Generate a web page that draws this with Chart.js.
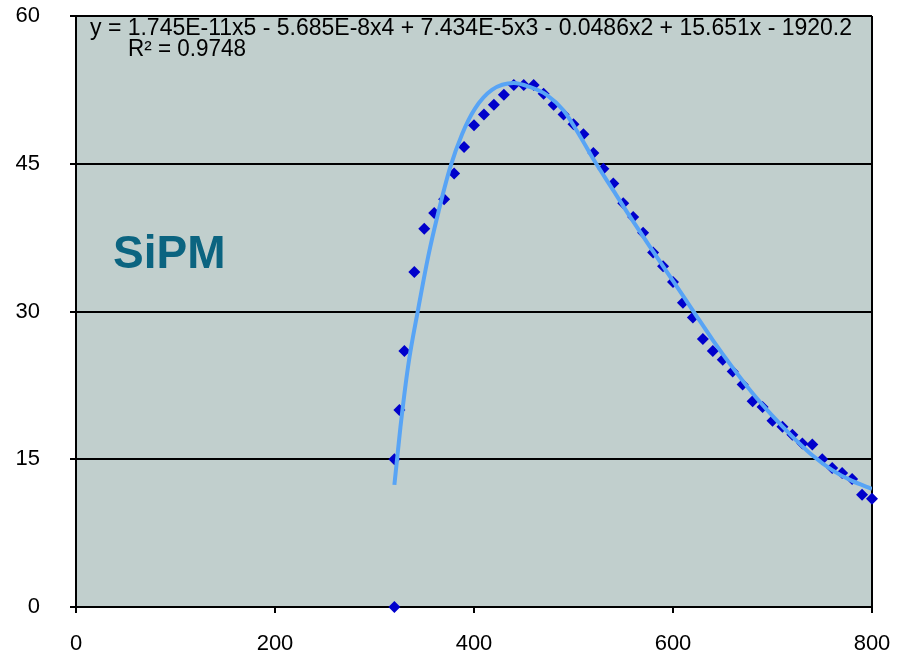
<!DOCTYPE html>
<html>
<head>
<meta charset="utf-8">
<script src="https://cdn.jsdelivr.net/npm/chart.js@4.4.1/dist/chart.umd.min.js"></script>
<style>
  html, body { margin: 0; padding: 0; background: #fff; }
  canvas { display: block; }
</style>
</head>
<body>
<canvas id="chart1" width="901" height="653"></canvas>
<script>
"use strict";

// measured points (wavelength nm, PDE %)
var wavelengths = [320, 320, 325, 330, 340, 350, 360, 370, 380, 390, 400, 410, 420, 430, 440, 450, 460, 470, 480, 490, 500,
  510, 520, 530, 540, 550, 560, 570, 580, 590, 600, 610, 620, 630, 640, 650, 660, 670, 680, 690, 700,
  710, 720, 730, 740, 750, 760, 770, 780, 790, 800];
var pde = [0, 15, 20, 26, 34, 38.4, 40, 41.4, 44, 46.7, 48.9, 50, 51, 52, 53, 53, 53, 52.1, 51, 50, 49,
  48, 46.1, 44.5, 43, 41, 39.6, 38, 36, 34.6, 33, 30.9, 29.4, 27.2, 26, 25.1, 23.9, 22.6, 20.9, 20.3, 18.9,
  18.3, 17.5, 16.6, 16.5, 15, 14.1, 13.6, 13, 11.4, 11];

// trend line
var trendX = [320, 326, 334, 344, 354, 364, 376, 388, 401, 418, 440, 456, 473, 490, 506, 521, 540, 557, 580,
  600, 620, 640, 660, 680, 700, 720, 740, 760, 780, 800];
var trendY = [12.4, 18.2, 24.6, 30.3, 35.6, 40.0, 44.6, 48.0, 50.6, 52.5, 53.2, 52.8, 52.0, 50.4, 47.9, 45.3, 42.3, 39.6, 36.1,
  33.1, 30.1, 27.1, 24.3, 21.7, 19.4, 17.3, 15.4, 13.9, 12.8, 12.0];

var xTicks = [0, 200, 400, 600, 800];
var yTicks = [0, 15, 30, 45, 60];

var equationText = "y = 1.745E-11x5 - 5.685E-8x4 + 7.434E-5x3 - 0.0486x2 + 15.651x - 1920.2";
var r2Text = "R\u00B2 = 0.9748";
var labelText = "SiPM";

function toPoints(xs, ys) {
  return xs.map(function(x, i) {
    return { x: x, y: ys[i] };
  });
}

var plotBackground = {
  id: "plotBackground",
  beforeDraw: function(chart) {
    var a = chart.chartArea;
    var ctx = chart.ctx;
    ctx.save();
    ctx.fillStyle = "#c1cfcd";
    ctx.fillRect(a.left, a.top, a.right - a.left, a.bottom - a.top);
    ctx.restore();
  }
};

function fitText(ctx, text, x, y, width) {
  var w = ctx.measureText(text).width;
  ctx.save();
  ctx.translate(x, y);
  ctx.scale(width / w, 1);
  ctx.fillText(text, 0, 0);
  ctx.restore();
}

var chartTexts = {
  id: "chartTexts",
  afterDraw: function(chart) {
    var ctx = chart.ctx;
    ctx.save();
    ctx.fillStyle = "#000";
    ctx.textBaseline = "alphabetic";
    ctx.textAlign = "left";
    ctx.font = "23px 'Liberation Sans', Arial, sans-serif";
    fitText(ctx, equationText, 90, 35, 762);
    fitText(ctx, r2Text, 128, 56, 118);
    ctx.fillStyle = "#0b6480";
    ctx.font = "bold 46px 'Liberation Sans', Arial, sans-serif";
    ctx.fillText(labelText, 113, 268);
    ctx.restore();
  }
};

var tickFont = { family: "'Liberation Sans', Arial, sans-serif", size: 22, lineHeight: 1 };

new Chart(document.getElementById("chart1"), {
  type: "scatter",
  data: {
    datasets: [
      {
        label: "trend",
        data: toPoints(trendX, trendY),
        showLine: true,
        borderColor: "#58a4f5",
        borderWidth: 4,
        pointRadius: 0,
        cubicInterpolationMode: "monotone",
        order: 0
      },
      {
        label: "SiPM",
        data: toPoints(wavelengths, pde),
        pointStyle: "rectRot",
        pointRadius: 6,
        backgroundColor: "#0000cc",
        borderColor: "#0000cc",
        borderWidth: 0,
        clip: false,
        order: 1
      }
    ]
  },
  options: {
    responsive: false,
    animation: false,
    layout: {
      padding: { top: 16, right: 29, left: 0, bottom: 0 }
    },
    plugins: {
      legend: { display: false },
      title: { display: false },
      tooltip: { enabled: false }
    },
    scales: {
      x: {
        type: "linear",
        min: 0,
        max: 800,
        afterBuildTicks: function(axis) {
          axis.ticks = xTicks.map(function(v) { return { value: v }; });
        },
        afterFit: function(axis) {
          axis.height = 46;
          axis.paddingLeft = 0;
          axis.paddingRight = 0;
        },
        ticks: {
          color: "#000",
          font: tickFont,
          padding: 20,
          maxRotation: 0
        },
        grid: {
          color: function(c) {
            return c.tick && c.tick.value === 800 ? "#000" : "rgba(0,0,0,0)";
          },
          tickColor: "#000",
          lineWidth: 2,
          tickLength: 6
        },
        border: { color: "#000", width: 2 }
      },
      y: {
        type: "linear",
        min: 0,
        max: 60,
        afterBuildTicks: function(axis) {
          axis.ticks = yTicks.map(function(v) { return { value: v }; });
        },
        afterFit: function(axis) {
          axis.width = 76;
          axis.paddingTop = 0;
          axis.paddingBottom = 0;
        },
        ticks: {
          color: "#000",
          font: tickFont,
          padding: 30
        },
        grid: {
          color: "#000",
          lineWidth: 2,
          tickLength: 6
        },
        border: { color: "#000", width: 2 }
      }
    }
  },
  plugins: [plotBackground, chartTexts]
});
</script>
</body>
</html>
